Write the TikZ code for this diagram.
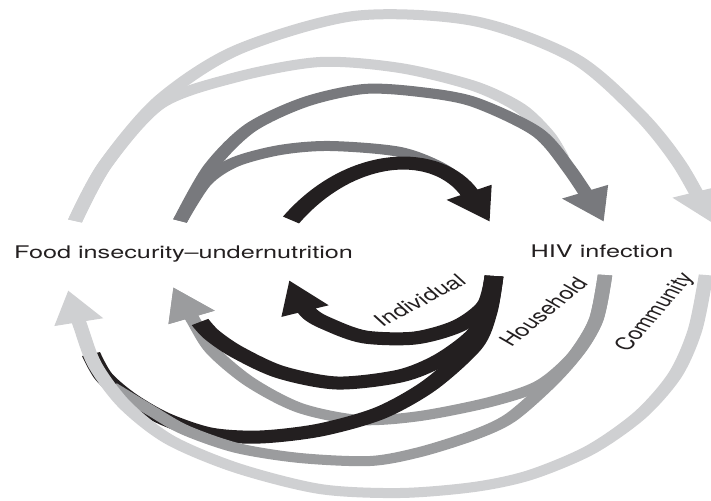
\documentclass[tikz,border=0pt]{standalone}
\usepackage{fontspec}
\setmainfont{TeX Gyre Heros}
\usetikzlibrary{arrows.meta}
\definecolor{cblack}{HTML}{231F20}
\definecolor{cdark}{HTML}{78797D}
\definecolor{cmid}{HTML}{9B9C9E}
\definecolor{clight}{HTML}{CFD0D2}
\begin{document}
\begin{tikzpicture}
\useasboundingbox (0,0) rectangle (711pt,-500pt);
\begin{scope}[transform canvas={xscale=1.45}, x=0.68966pt, y=-1pt,
  lbl/.style={font=\fontsize{17.4}{20}\selectfont, text=cblack, inner sep=0pt, anchor=base},
  hd/.style={-{Triangle[length=33pt,width=32pt]}},
  blk/.style={draw=cblack, line width=13pt},
  drk/.style={draw=cdark, line width=10pt},
  mid/.style={draw=cmid, line width=10pt},
  lgt/.style={draw=clight, line width=10pt}]
% texts
\node[lbl] (food) at (183.5,258.5) {Food insecurity–undernutrition};
\node[lbl] (hiv) at (602,257) {HIV infection};
\node[lbl, rotate=37] (ind) at (425,305) {Individual};
\node[lbl, rotate=50] (hh) at (550,316) {Household};
\node[lbl, rotate=59] (com) at (661,315) {Community};
% end points
\coordinate (fL) at (75,221);
\coordinate (fD) at (180,221);
\coordinate (fB) at (291,220);
\coordinate (hB) at (490,222);
\coordinate (hD) at (604,222);
\coordinate (hL) at (712,223);
\coordinate (tB) at (494,276);
\coordinate (tD) at (605,275);
\coordinate (tL) at (706,275);
\coordinate (gB) at (289,280);
\coordinate (gD) at (173,287);
\coordinate (gL) at (68,290);
% ---- top: food -> HIV
\path[lgt, hd] plot[smooth] coordinates {(fL) (105,165) (160,100) (237,50) (354,16) (474,21) (574,58) (640,115) (680,165) (hL)};
\path[lgt] plot[smooth] coordinates {(fL) (105,165) (160,104) (237,77) (320,62) (400,68) (474,86) (520,108) (548,135) (562,158)};
\path[drk] plot[smooth] coordinates {(fD) (205,182) (235,162) (280,150) (330,146) (400,152) (445,170) (472,195)};
\path[drk, hd] plot[smooth] coordinates {(fD) (210,168) (250,128) (305,102) (364,89) (420,92) (474,102) (537,132) (570,170) (hD)};
\path[blk, hd] (fB) .. controls (351.6,150.5) and (437.9,148) .. (hB);
% ---- bottom: HIV -> food
\path[mid, hd] plot[smooth] coordinates {(tD) (596,320) (575,355) (540,385) (490,402) (420,416) (360,420) (300,408) (250,382) (212,350) (192,318) (gD)};
\path[blk] plot[smooth] coordinates {(tB) (488,312) (474,345) (430,385) (380,413) (320,430) (260,437) (210,434) (165,419) (130,399) (104,377) (91,354)};
\path[mid] plot[smooth] coordinates {(tD) (596,320) (575,355) (548,385) (510,418) (474,435) (420,452) (370,461) (300,458) (237,448) (185,430) (150,410) (112,387)};
\path[lgt, hd] plot[smooth] coordinates {(tL) (695,330) (675,375) (640,415) (590,450) (530,475) (474,487) (400,493) (320,489) (237,468) (170,440) (125,405) (95,365) (80,325) (gL)};
\path[blk] plot[smooth] coordinates {(tB) (488,310) (474,335) (440,360) (400,376) (337,383) (280,372) (237,352) (212,335) (200,322)};
\path[blk, hd] plot[smooth] coordinates {(tB) (486,305) (458,326) (415,338) (365,337) (330,325) (308,312) (gB)};
% gray head re-drawn over the joining black branch
\path[mid, hd] (192,318) -- (gD);
\end{scope}
\end{tikzpicture}
\end{document}
